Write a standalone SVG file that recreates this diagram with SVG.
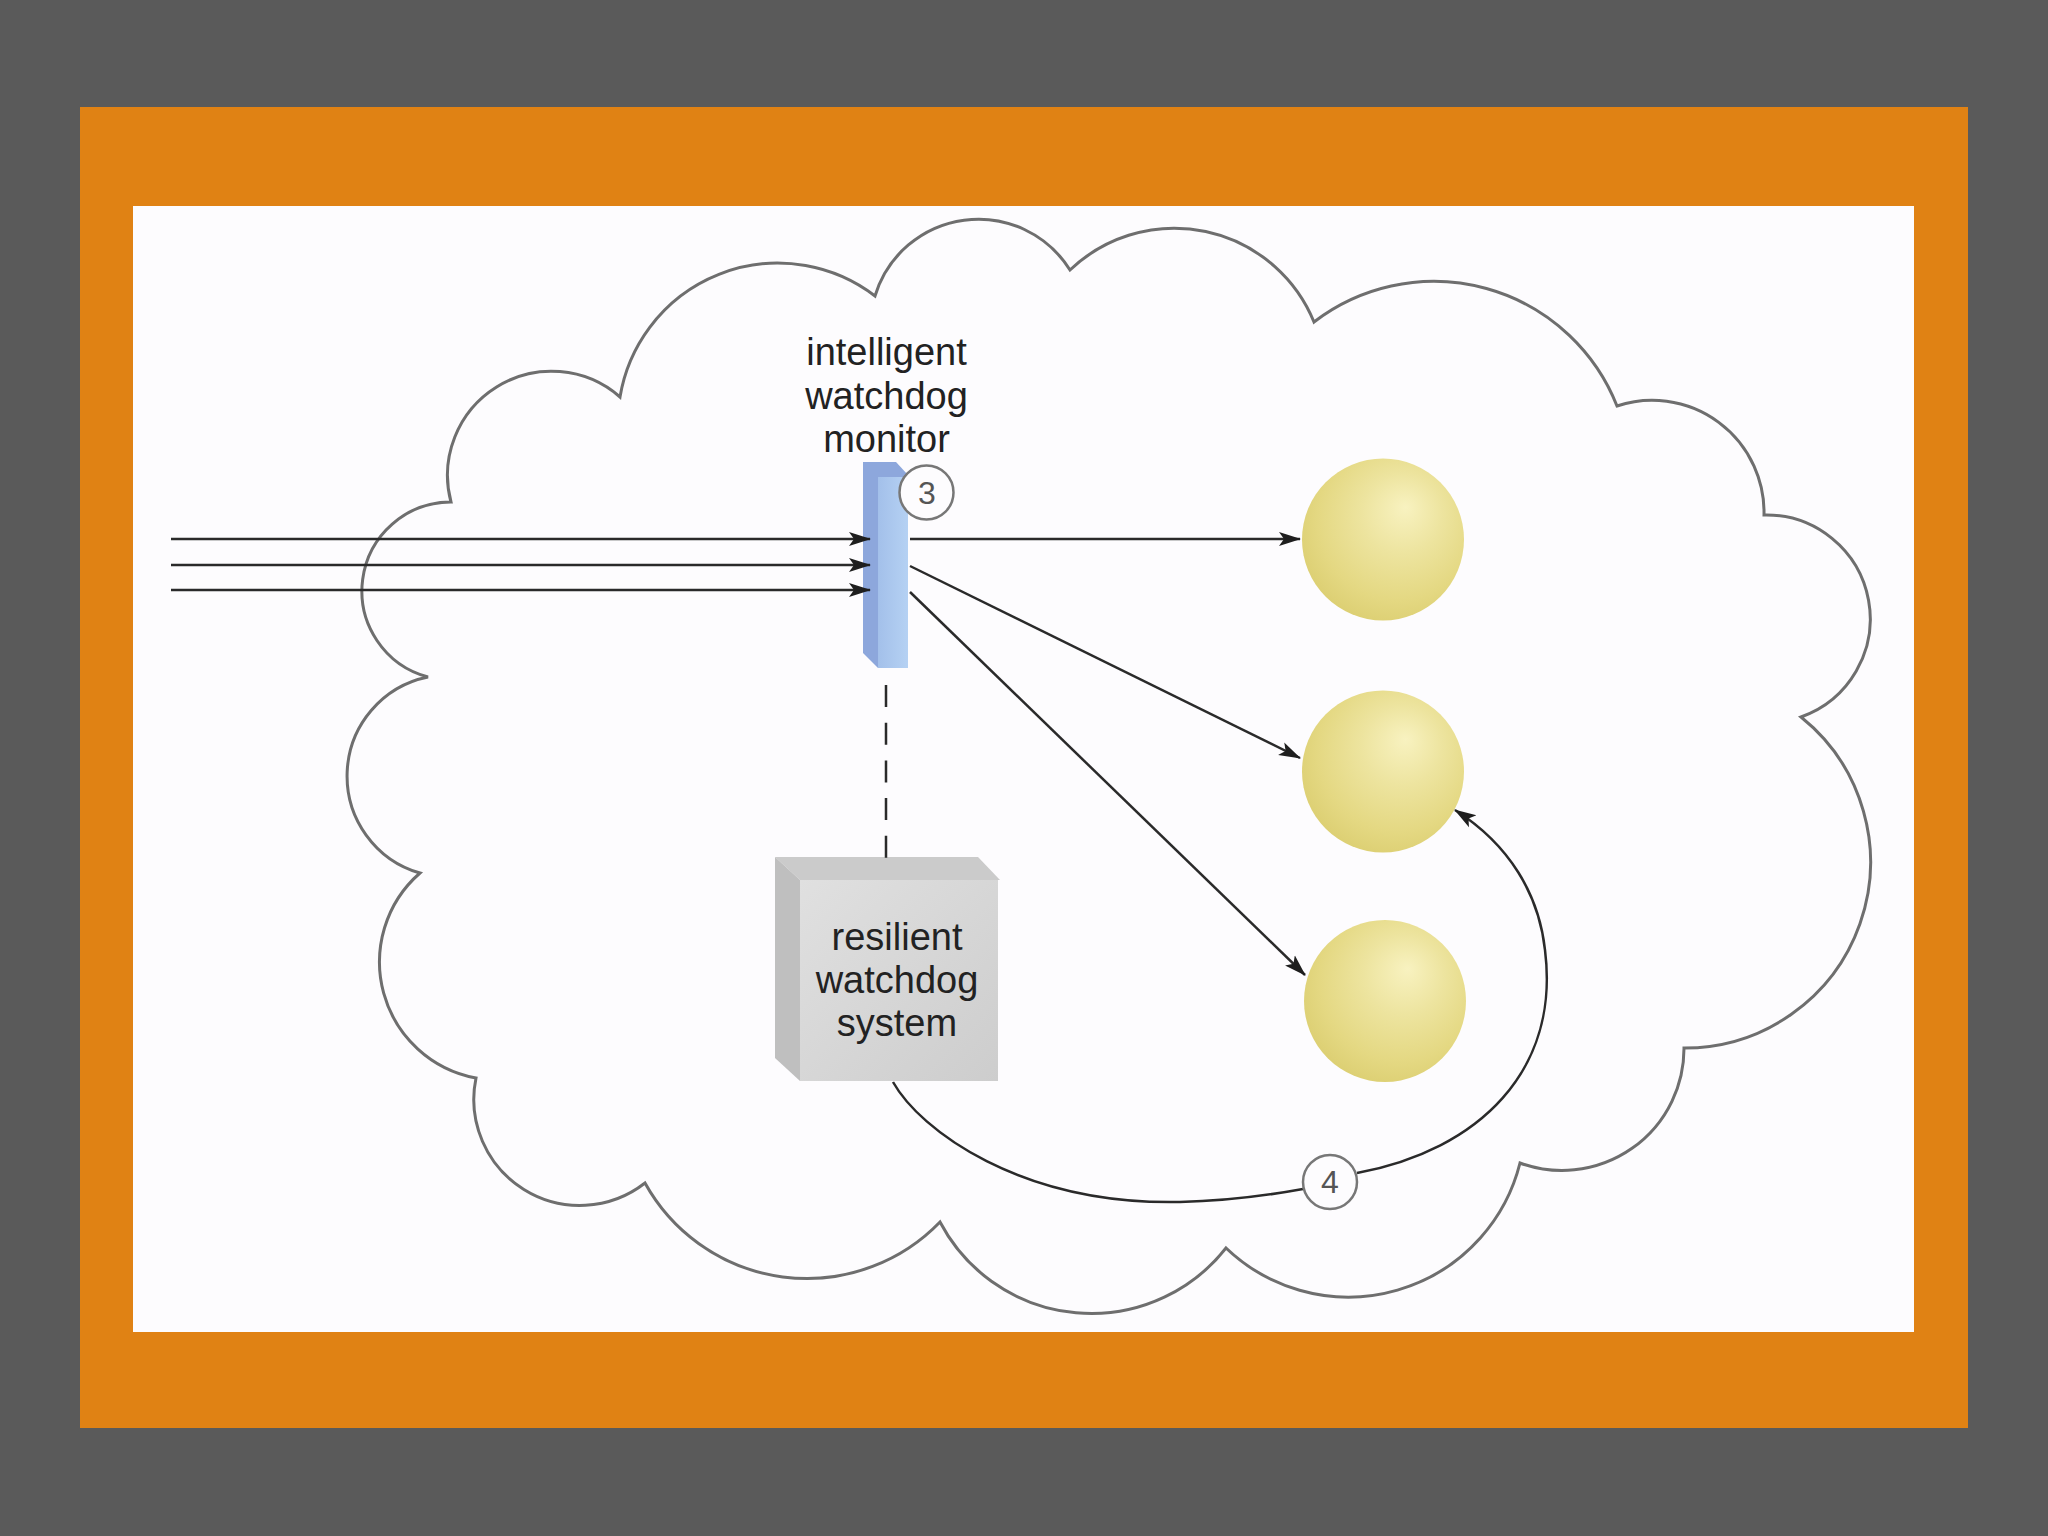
<svg xmlns="http://www.w3.org/2000/svg" width="2048" height="1536" viewBox="0 0 2048 1536">
<style>
.lbl{font-family:"Liberation Sans",Arial,sans-serif;font-size:38px;fill:#222;text-anchor:middle}
.num{font-family:"Liberation Sans",Arial,sans-serif;font-size:32px;fill:#555;text-anchor:middle}
.cloud{fill:none;stroke:#6e6e6e;stroke-width:3}
.conn{fill:none;stroke:#2a2a2a;stroke-width:2.5}
.ncirc{fill:#fdfcfe;stroke:#777;stroke-width:2.5}
</style>
<defs>
<marker id="ah" viewBox="0 0 22 16" refX="21" refY="8" markerWidth="22" markerHeight="16" markerUnits="userSpaceOnUse" orient="auto">
<path d="M0,1 L22,8 L0,15 L5,8 Z" fill="#1e1e1e"/>
</marker>
<radialGradient id="sph" cx="0.58" cy="0.4" r="0.62" fx="0.64" fy="0.3">
<stop offset="0" stop-color="#f8f2c0"/>
<stop offset="0.4" stop-color="#ede49f"/>
<stop offset="0.8" stop-color="#e4d882"/>
<stop offset="1" stop-color="#ddd074"/>
</radialGradient>
<linearGradient id="boxFront" x1="0" y1="0" x2="1" y2="1">
<stop offset="0" stop-color="#e0e0e0"/>
<stop offset="1" stop-color="#cdcdcd"/>
</linearGradient>
<linearGradient id="barFront" x1="0" y1="0" x2="1" y2="0">
<stop offset="0" stop-color="#a3c0ea"/>
<stop offset="1" stop-color="#b5d1f3"/>
</linearGradient>
</defs>

<rect x="0" y="0" width="2048" height="1536" fill="#5a5a5a"/>
<rect x="80" y="107" width="1888" height="1321" fill="#e08214"/>
<rect x="133" y="206" width="1781" height="1126" fill="#fdfcfe"/>

<g id="cloud">
<path class="cloud" d="M 451 502 A 104 104 0 0 1 620 397 A 160 160 0 0 1 875 296 A 108 108 0 0 1 1070 270 A 151 151 0 0 1 1314 322 A 197 197 0 0 1 1617 406 A 112 112 0 0 1 1764 515 A 104 104 0 0 1 1801 717 A 186 186 0 0 1 1684 1048 A 122 122 0 0 1 1520 1163 A 177 177 0 0 1 1226 1248 A 171 171 0 0 1 940 1222 A 185 185 0 0 1 645 1183 A 106 106 0 0 1 476 1078 A 118 118 0 0 1 420 873 A 101 101 0 0 1 428 677 A 89 89 0 0 1 451 502 Z"/>
</g>

<g id="monitor">
<polygon points="863,462 896,462 908,475 908,668 878,668 863,653" fill="#8da7dc"/>
<rect x="878" y="477" width="30" height="191" fill="url(#barFront)"/>
<text class="lbl" x="886.5" y="365">intelligent</text>
<text class="lbl" x="886.5" y="408.5">watchdog</text>
<text class="lbl" x="886.5" y="452">monitor</text>
</g>

<g id="watchdog-system">
<polygon points="775,857 978,857 1000,880 800,880" fill="#cbcbcb"/>
<polygon points="775,857 800,880 800,1081 775,1058" fill="#bfbfbf"/>
<rect x="800" y="880" width="198" height="201" fill="url(#boxFront)"/>
<text class="lbl" x="897" y="950">resilient</text>
<text class="lbl" x="897" y="993">watchdog</text>
<text class="lbl" x="897" y="1036">system</text>
</g>

<g id="node-1"><circle cx="1383" cy="539.5" r="81" fill="url(#sph)"/></g>
<g id="node-2"><circle cx="1383" cy="771.5" r="81" fill="url(#sph)"/></g>
<g id="node-3"><circle cx="1385" cy="1001" r="81" fill="url(#sph)"/></g>

<g id="connectors">
<path class="conn" d="M171 539 H870" marker-end="url(#ah)"/>
<path class="conn" d="M171 565 H870" marker-end="url(#ah)"/>
<path class="conn" d="M171 590 H870" marker-end="url(#ah)"/>
<path class="conn" d="M910 539 H1300" marker-end="url(#ah)"/>
<path class="conn" d="M910 566 L1300 758" marker-end="url(#ah)"/>
<path class="conn" d="M910 592 L1305 975" marker-end="url(#ah)"/>
<path class="conn" d="M886 685 V868" stroke-dasharray="22 15.7"/>
<path class="conn" d="M893 1082 C 920 1130 1020 1205 1180 1202 C 1230 1201 1270 1195 1303 1189"/>
<path class="conn" d="M1357 1173 C 1480 1150 1560 1070 1545 950 C 1539 895 1510 845 1455 810" marker-end="url(#ah)"/>
</g>

<g id="step-3">
<circle class="ncirc" cx="926.5" cy="492.5" r="27"/>
<text class="num" x="927" y="504">3</text>
</g>
<g id="step-4">
<circle class="ncirc" cx="1330" cy="1182" r="27"/>
<text class="num" x="1330" y="1193">4</text>
</g>
</svg>
